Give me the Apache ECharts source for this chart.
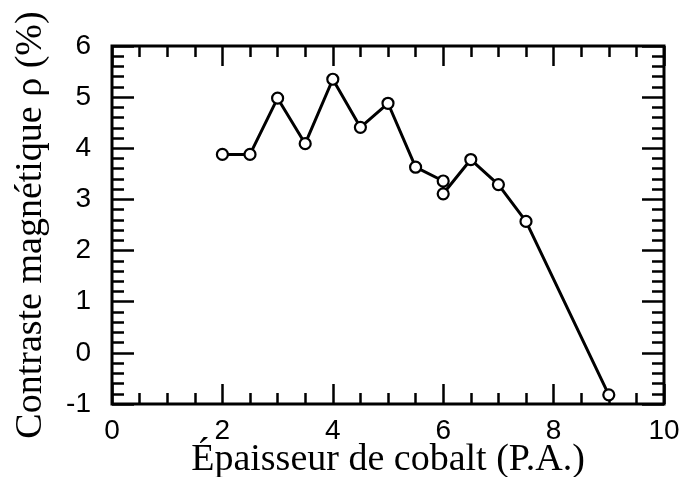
<!DOCTYPE html>
<html>
<head>
<meta charset="utf-8">
<script src="https://cdn.jsdelivr.net/npm/echarts@6/dist/echarts.min.js"></script>
<style>
  html, body { margin: 0; padding: 0; background: #fff; }
  #chart { width: 686px; height: 477px; }
</style>
</head>
<body>
<div id="chart"></div>
<script>
// Cobalt thickness (atomic planes) and magnetic contrast (%)
const thickness = [2, 2.5, 3, 3.5, 4, 4.5, 5, 5.5, 6, 6, 6.5, 7, 7.5, 9];
const contrast  = [3.88, 3.88, 4.98, 4.09, 5.35, 4.41, 4.88, 3.63, 3.36, 3.11, 3.78, 3.29, 2.57, -0.82];

const xTitle = 'Épaisseur de cobalt (P.A.)';
const yTitle = 'Contraste magnétique ρ (%)';

const points = thickness.map((t, i) => [t, contrast[i]]);

const tickFont = '"Liberation Sans", Arial, Helvetica, sans-serif';
const titleFont = '"Liberation Serif", "Times New Roman", serif';

function xAxisDef(pos, withLabels) {
  return {
    type: 'value', position: pos, min: 0, max: 10, interval: 2,
    axisLine: { show: false, onZero: false },
    axisTick: { show: true, inside: true, length: 20, lineStyle: { color: '#000', width: 2.5 } },
    minorTick: { show: true, splitNumber: 4, length: 11, lineStyle: { color: '#000', width: 2.5 } },
    splitLine: { show: false },
    axisLabel: { show: withLabels, color: '#000', fontSize: 28, fontFamily: tickFont, margin: 13 },
    name: withLabels ? xTitle : '',
    nameLocation: 'middle', nameGap: 37, nameMoveOverlap: false,
    nameTextStyle: { color: '#000', fontSize: 38, fontFamily: titleFont }
  };
}

function yAxisDef(pos, withLabels) {
  return {
    type: 'value', position: pos, min: -1, max: 6, interval: 1,
    axisLine: { show: false, onZero: false },
    axisTick: { show: true, inside: true, length: 22, lineStyle: { color: '#000', width: 2.5 } },
    minorTick: { show: true, splitNumber: 5, length: 12, lineStyle: { color: '#000', width: 2.5 } },
    splitLine: { show: false },
    axisLabel: { show: withLabels, color: '#000', fontSize: 28, fontFamily: tickFont, margin: 21 },
    name: withLabels ? yTitle : '',
    nameLocation: 'middle', nameGap: 62, nameRotate: 90, nameMoveOverlap: false,
    nameTextStyle: { color: '#000', fontSize: 38, fontFamily: titleFont }
  };
}

const chart = echarts.init(document.getElementById('chart'), null, { renderer: 'canvas' });
chart.setOption({
  animation: false,
  backgroundColor: '#fff',
  grid: {
    left: 112, right: 22, top: 46, bottom: 73,
    outerBoundsMode: 'none', containLabel: false,
    show: true, borderColor: '#000', borderWidth: 3, backgroundColor: 'transparent'
  },
  xAxis: [xAxisDef('bottom', true), xAxisDef('top', false)],
  yAxis: [yAxisDef('left', true), yAxisDef('right', false)],
  series: [{
    type: 'line',
    data: points,
    xAxisIndex: 0, yAxisIndex: 0,
    lineStyle: { color: '#000', width: 3 },
    symbol: 'circle', symbolSize: 11,
    itemStyle: { color: '#fff', borderColor: '#000', borderWidth: 2.2 },
    z: 5
  }]
});
</script>
</body>
</html>
